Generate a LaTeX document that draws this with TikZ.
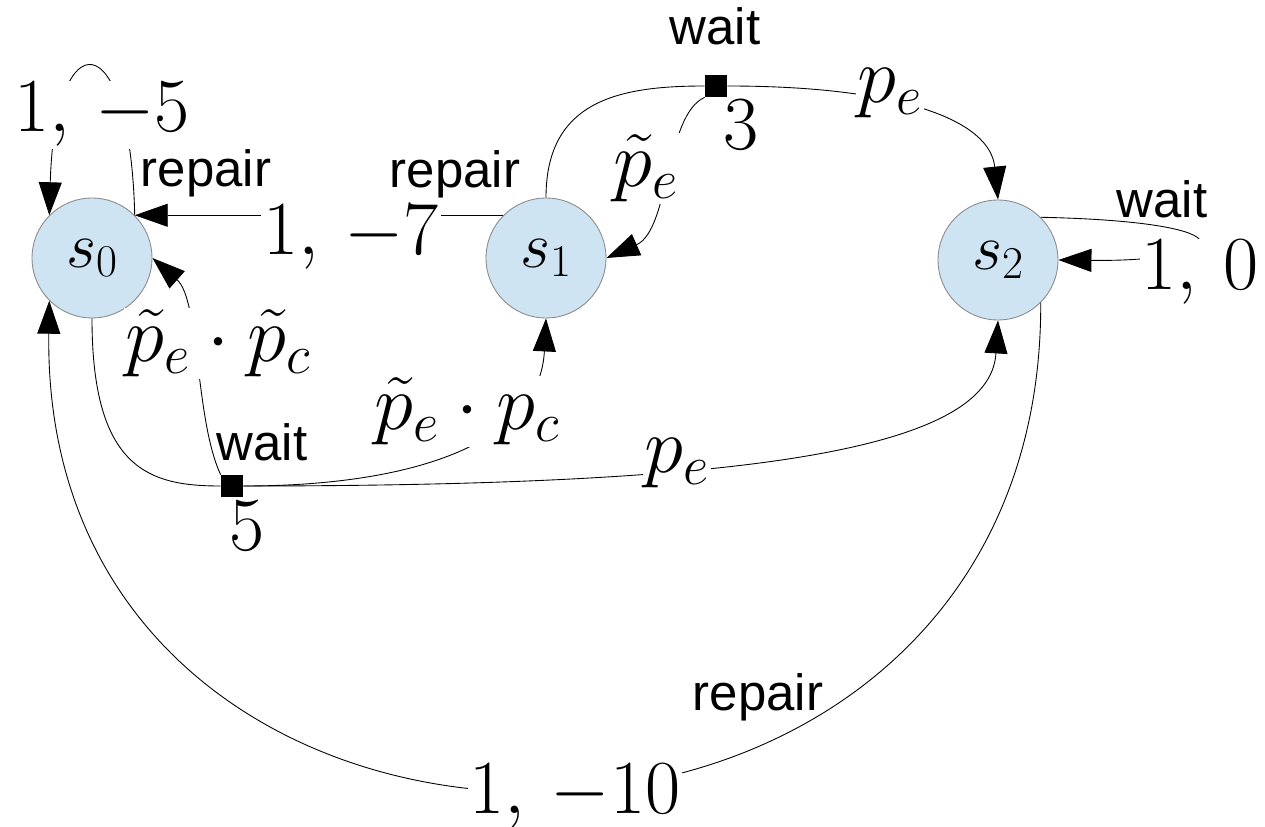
\documentclass[tikz,border=0pt]{standalone}
\usepackage{fix-cm}
\usepackage{amsmath,amssymb}
\usepackage{fontspec}
\setsansfont{Liberation Sans}
\usepackage{xcolor}
\usepackage{tikz}
\usetikzlibrary{arrows.meta}

\definecolor{stateblue}{RGB}{207,228,242}
\definecolor{stateline}{RGB}{140,140,140}

\begin{document}
\begin{tikzpicture}[
  x=0.02cm, y=-0.02cm,
  state/.style = {circle, draw=stateline, line width=0.5pt, fill=stateblue,
                  minimum size=2.4cm, inner sep=0pt,
                  font=\fontsize{37}{40}\selectfont},
  act/.style   = {rectangle, fill=black, minimum size=0.44cm, inner sep=0pt},
  rew/.style   = {fill=white, inner sep=1pt, anchor=base,
                  font=\fontsize{43.5}{46}\selectfont},
  prob/.style  = {rew, font=\fontsize{45}{48}\selectfont},
  word/.style  = {anchor=base, inner sep=0pt,
                  font=\sffamily\fontsize{29}{32}\selectfont},
  flow/.style  = {-{Triangle[length=0.66cm, width=0.46cm]}, line width=0.5pt},
  line/.style  = {line width=0.5pt},
]
\useasboundingbox (0,0) rectangle (1265,827);

% ---------- states ----------
\node[state] (s0) at (92,258)  {$s_0$};
\node[state] (s1) at (546,258) {$s_1$};
\node[state] (s2) at (998,260) {$s_2$};

% ---------- action points ----------
\node[act] (w1) at (716,86)  {};
\node[act] (w0) at (232,486) {};

% ---------- transitions ----------
\draw[flow] (s0.45) .. controls (130,20) and (55,20) .. (s0.135);
\draw[flow] (s1.135) -- (s0.45);
\draw[line] (s1.north) .. controls (546,100) and (620,86) .. (w1.west);
\draw[flow] (w1.east) .. controls (900,86) and (990,120) .. (s2.north);
\draw[flow] (w1.south west) .. controls (665,115) and (670,230) .. (s1.east);
\draw[flow] (s2.45) .. controls (1260,222) and (1230,262) .. (s2.east);
\draw[flow] (s2.-45) .. controls (1043,950) and (40,950) .. (s0.-135);
\draw[line] (s0.south) .. controls (92,470) and (150,486) .. (w0.west);
\draw[flow] (w0.north west) .. controls (195,420) and (200,300) .. (s0.east);
\draw[flow] (w0.east) .. controls (420,486) and (540,440) .. (s1.south);
\draw[flow] (w0.east) .. controls (750,486) and (990,450) .. (s2.south);

% ---------- action names ----------
\node[word] (rp0) at (206,187) {repair};
\node[word] (rp1) at (455,188) {repair};
\node[word] (rp2) at (758,710) {repair};
\node[word] (wt1) at (715,45)  {wait};
\node[word] (wt2) at (1162,218) {wait};
\node[word] (wt0) at (262,460) {wait};

% ---------- rewards ----------
\node[rew] (r05)  at (102,132)  {$1,\,-5$};
\node[rew] (r10)  at (351,255)  {$1,\,-7$};
\node[rew] (r22)  at (1200,290) {$1,\,0$};
\node[rew] (r20)  at (575,813)  {$1,\,-10$};
\node[rew] (rw1)  at (741,150)  {$3$};
\node[rew] (rw0)  at (247,550)  {$5$};

% ---------- probabilities ----------
\node[prob] (pw12) at (890,103) {$p_e$};
\node[prob] (pw11) at (646,187) {$\tilde{p}_e$};
\node[prob] (pw00) at (218,362) {$\tilde{p}_e\cdot\tilde{p}_c$};
\node[prob] (pw01) at (467,430) {$\tilde{p}_e\cdot p_c$};
\node[prob] (pw02) at (677,473) {$p_e$};

\end{tikzpicture}
\end{document}
